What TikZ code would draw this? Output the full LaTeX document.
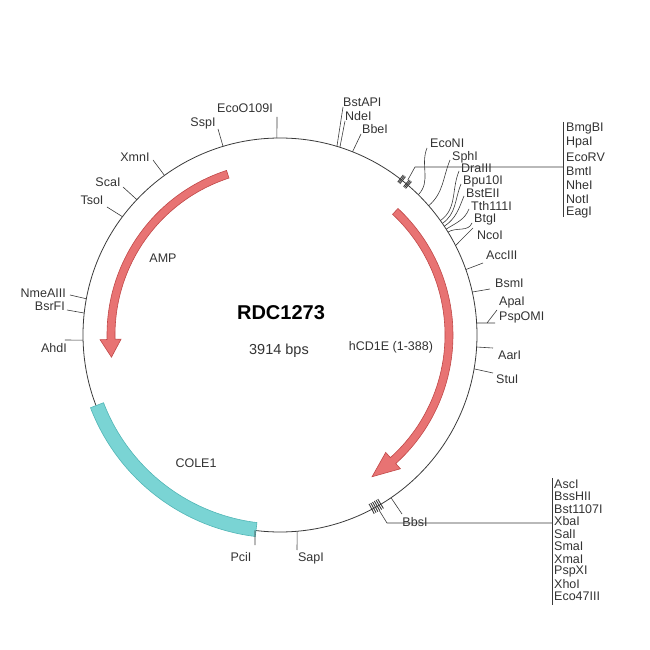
\documentclass[tikz,border=0pt]{standalone}
\usepackage{fontspec}
\setmainfont{Liberation Sans}
\usetikzlibrary{calc}
\definecolor{txt}{HTML}{333333}
\definecolor{ringc}{HTML}{3A3A3A}
\definecolor{redf}{HTML}{E87373}
\definecolor{redd}{HTML}{C04848}
\definecolor{cyf}{HTML}{7AD4D4}
\definecolor{cyd}{HTML}{52B6B6}
% straight site: name, angle, leader end, label pos, anchor, text
\newcommand\rsite[6]{%
  \coordinate (#1a) at (#2:197pt);
  \coordinate (#1b) at #3;
  \node[lbl, anchor=#5] (#1) at #4 {#6};
  \draw[lead] (#1a) -- (#1b);}
% curved site (fan)
\newcommand\csite[6]{%
  \coordinate (#1a) at (#2:197pt);
  \coordinate (#1b) at #3;
  \node[lbl, anchor=#5] (#1) at #4 {#6};
  \draw[lead] (#1a) to[out=#2, in=-112] (#1b);}
\begin{document}
\begin{tikzpicture}[x=1pt,y=1pt,
  lbl/.style={font=\fontsize{12.5}{14}\selectfont, text=txt, inner sep=0pt},
  lead/.style={draw=ringc, line width=0.6pt},
  tickc/.style={draw=ringc, line width=0.9pt},
  gene/.style={fill=redf, draw=redd, line width=0.6pt}]
\useasboundingbox (-280,-315) rectangle (370,335);
\coordinate (c) at (0,0);
\draw[ringc, line width=0.8pt] (c) circle[radius=197pt];

% COLE1 band
\filldraw[fill=cyf, draw=cyd, line width=0.6pt] (201:203pt) arc[start angle=201, end angle=263, radius=203pt]
  -- (263:189pt) arc[start angle=263, end angle=201, radius=189pt] -- cycle;

% AMP arrow
\filldraw[gene] (108:173pt) arc[start angle=108, end angle=181.5, radius=173pt]
  -- (181.5:180pt) -- (187.5:170pt) -- (181.5:159pt) -- (181.5:165pt)
  arc[start angle=181.5, end angle=108, radius=165pt] -- cycle;
% hCD1E arrow
\filldraw[gene] (47:173pt) arc[start angle=47, end angle=-48, radius=173pt]
  -- (-48:180pt) -- (-57:169pt) -- (-48:158pt) -- (-48:165pt)
  arc[start angle=-48, end angle=47, radius=165pt] -- cycle;

% inner labels
\node[lbl] (amp) at (-117,77) {AMP};
\node[lbl] (hcd) at (111,-12) {hCD1E (1-388)};
\node[lbl] (cole) at (-84,-128) {COLE1};
\node[font=\fontsize{20}{22}\selectfont\bfseries, text=black, inner sep=0pt] (name) at (1,22) {RDC1273};
\node[font=\fontsize{14.5}{16}\selectfont, text=txt, inner sep=0pt] (bps) at (-1,-16) {3914 bps};

% top sites
\rsite{sspi}{106.8}{(-62,206)}{(-77,212)}{center}{SspI}
\rsite{ecoo}{90.9}{(-3,218)}{(-35,227)}{center}{EcoO109I}
\rsite{bstapi}{73.2}{(63,228)}{(63,233)}{west}{BstAPI}
\rsite{ndei}{72.3}{(65,214)}{(65,219)}{west}{NdeI}
\rsite{bbei}{68.4}{(81,201)}{(82,206)}{west}{BbeI}

% fan
\csite{econi}{45.4}{(147,187)}{(150,192)}{west}{EcoNI}
\csite{sphi}{41}{(170,175)}{(172,178)}{west}{SphI}
\csite{draiii}{35.5}{(179,164)}{(181,167)}{west}{DraIII}
\csite{bpu}{34.5}{(181,151)}{(183,154)}{west}{Bpu10I}
\csite{bsteii}{33.5}{(184,139)}{(186,142)}{west}{BstEII}
\csite{tth}{32.5}{(189,126)}{(191,129)}{west}{Tth111I}
\csite{btgi}{31.5}{(192,112)}{(194,115)}{west}{BtgI}
\rsite{ncoi}{27}{(193,107)}{(197,100)}{west}{NcoI}

% right sites
\rsite{acciii}{19.4}{(203,72)}{(206,80)}{west}{AccIII}
\rsite{bsmi}{12.6}{(210,46)}{(215,52)}{west}{BsmI}
\coordinate (apaa) at (3.5:197pt);
\coordinate (apam) at (207,12);
\coordinate (apab) at (217,25);
\coordinate (pspb) at (215,12);
\node[lbl, anchor=west] (apai) at (219,33) {ApaI};
\node[lbl, anchor=west] (pspomi) at (219,18) {PspOMI};
\draw[lead] (apaa) -- (pspb);
\draw[lead] (apam) -- (apab);
\rsite{aari}{-3.5}{(213,-13)}{(218,-20)}{west}{AarI}
\rsite{stui}{-9.9}{(213,-38)}{(216,-44)}{west}{StuI}

% top-right cluster
\foreach \t in {52.4,52.0,51.6,50.2,49.8,49.4}
  \draw[tickc] (\t:193pt) -- (\t:202pt);
\coordinate (k1a) at (50.5:201pt);
\coordinate (k1b) at (135,168);
\coordinate (k1c) at (283,168);
\coordinate (k1t) at (283,213);
\coordinate (k1u) at (283,118);
\draw[lead] (k1a) -- (k1b) -- (k1c);
\draw[lead] (k1t) -- (k1u);
\node[lbl, anchor=west] (bmgbi) at (286,206) {BmgBI};
\node[lbl, anchor=west] (hpai) at (286,192) {HpaI};
\node[lbl, anchor=west] (ecorv) at (286,178) {EcoRV};
\node[lbl, anchor=west] (bmti) at (286,164) {BmtI};
\node[lbl, anchor=west] (nhei) at (286,150) {NheI};
\node[lbl, anchor=west] (noti) at (286,136) {NotI};
\node[lbl, anchor=west] (eagi) at (286,122) {EagI};

% bottom-right cluster
\foreach \t in {-62.2,-61.6,-61.0,-60.4,-59.8,-59.2}
  \draw[tickc] (\t:191pt) -- (\t:202pt);
\coordinate (k2a) at (-60.5:202pt);
\coordinate (k2b) at (107,-188);
\coordinate (k2c) at (272,-188);
\coordinate (k2t) at (272,-143);
\coordinate (k2u) at (272,-270);
\rsite{bbsi}{-55.7}{(122,-179)}{(135,-187)}{center}{BbsI}
\draw[lead] (k2a) -- (k2b) -- (k2c);
\draw[lead] (k2t) -- (k2u);
\node[lbl, anchor=west] (asci) at (274,-149) {AscI};
\node[lbl, anchor=west] (bsshii) at (274,-161.5) {BssHII};
\node[lbl, anchor=west] (bst1107) at (274,-174) {Bst1107I};
\node[lbl, anchor=west] (xbai) at (274,-186.5) {XbaI};
\node[lbl, anchor=west] (sali) at (274,-199) {SalI};
\node[lbl, anchor=west] (smai) at (274,-211.5) {SmaI};
\node[lbl, anchor=west] (xmai) at (274,-224) {XmaI};
\node[lbl, anchor=west] (pspxi) at (274,-236.5) {PspXI};
\node[lbl, anchor=west] (xhoi) at (274,-249) {XhoI};
\node[lbl, anchor=west] (eco47) at (274,-261.5) {Eco47III};

% bottom sites
\rsite{pcii}{-97.3}{(-25,-210)}{(-39,-222)}{center}{PciI}
\rsite{sapi}{-85}{(17,-215)}{(31,-223)}{center}{SapI}

% left sites
\rsite{xmni}{125.9}{(-127,175)}{(-145,178)}{center}{XmnI}
\rsite{scai}{136.6}{(-157,148)}{(-172,153)}{center}{ScaI}
\rsite{tsoi}{143.1}{(-173,128)}{(-188,135)}{center}{TsoI}
\rsite{nmeaiii}{169.4}{(-210,40)}{(-214,42)}{east}{NmeAIII}
\rsite{bsrfi}{173.6}{(-213,25)}{(-215,29)}{east}{BsrFI}
\rsite{ahdi}{181.5}{(-215,-5)}{(-213,-13)}{east}{AhdI}
\end{tikzpicture}
\end{document}
